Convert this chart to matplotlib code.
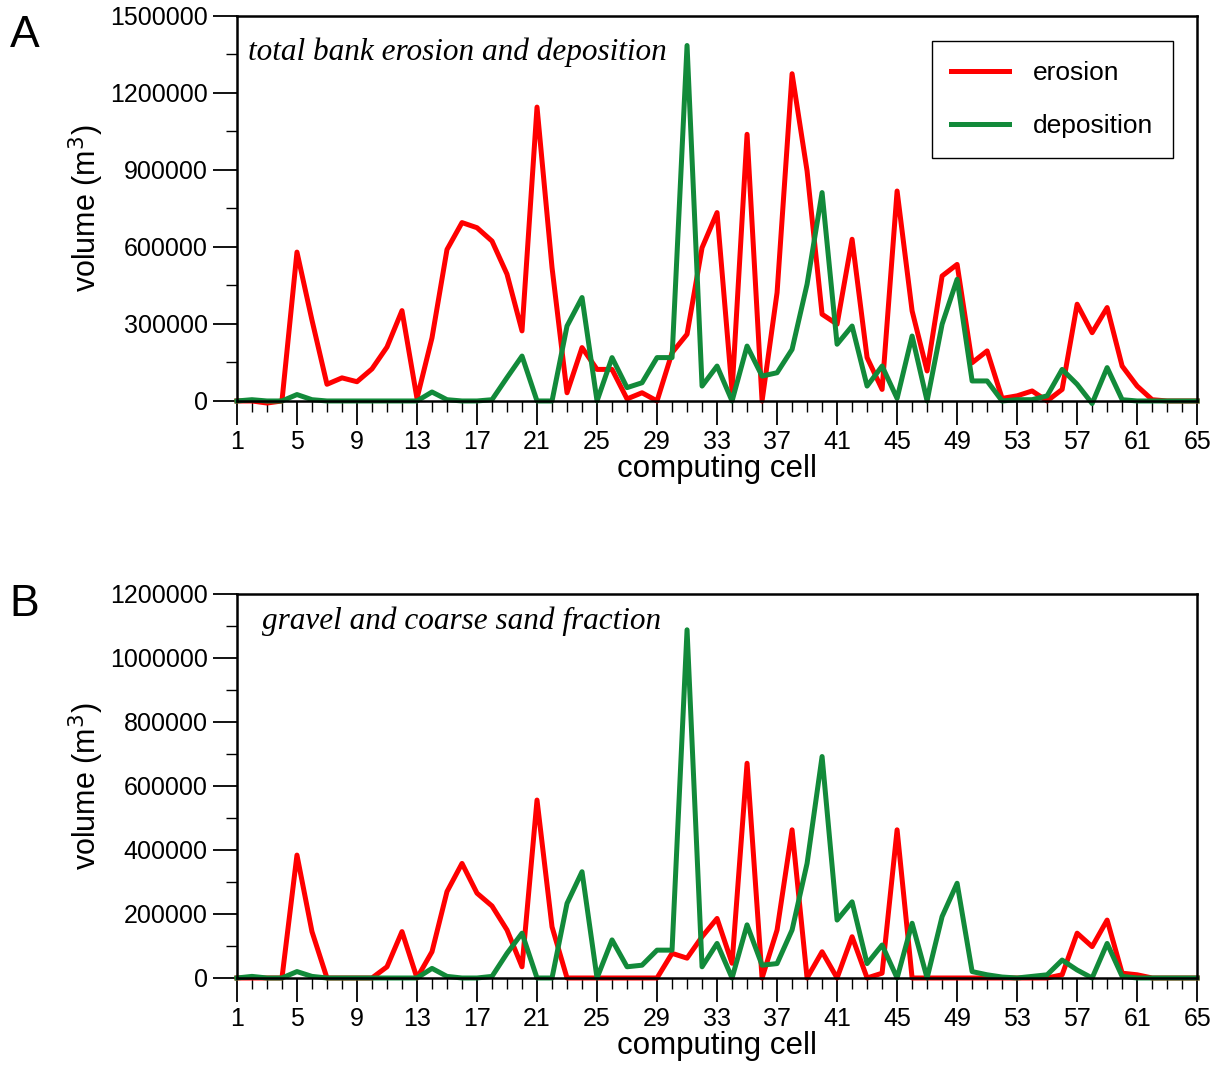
import numpy as np
import matplotlib
matplotlib.use("Agg")
import matplotlib.pyplot as plt
from matplotlib.ticker import MultipleLocator

# computing cells 1..65
cells = np.arange(1, 66)
cell_ticks = cells[::4]

# panel A: total bank erosion and deposition (m3)
erosion_a = [0, 0, -8000, 0, 580000, 315000, 65000, 90000, 75000, 125000,
             210000, 352000, 10000, 246000, 590000, 695000, 675000, 623000, 494000, 273000,
             1145000, 520000, 32000, 208000, 123000, 123000, 8000, 32000, 0, 188000,
             260000, 597000, 734000, 39000, 1039000, 0, 422000, 1275000, 896000, 338000,
             299000, 630000, 169000, 45000, 818000, 351000, 117000, 487000, 532000, 149000,
             195000, 10000, 20000, 39000, 0, 45000, 377000, 266000, 364000, 136000,
             58000, 5000, 0, 0, 0]
deposition_a = [0, 5000, 0, 0, 25000, 5000, 0, 0, 0, 0,
                0, 0, 0, 35000, 5000, 0, 0, 5000, 91000, 175000,
                0, 0, 292000, 403000, 0, 169000, 52000, 71000, 169000, 169000,
                1385000, 58000, 136000, 0, 214000, 97000, 110000, 201000, 455000, 812000,
                221000, 292000, 58000, 136000, 10000, 253000, 0, 299000, 474000, 78000,
                78000, 0, 5000, 5000, 20000, 123000, 65000, -10000, 130000, 5000,
                0, 0, 0, 0, 0]

# panel B: gravel and coarse sand fraction (m3)
erosion_b = [0, 0, 0, 0, 384000, 145000, 0, 0, 0, 0,
             35000, 145000, 0, 82000, 270000, 358000, 265000, 225000, 150000, 35000,
             556000, 160000, 0, 0, 0, 0, 0, 0, 0, 77000,
             62000, 129000, 186000, 46000, 671000, 0, 150000, 463000, 0, 82000,
             0, 129000, 0, 15000, 463000, 0, 0, 0, 0, 0,
             0, 0, 0, 0, 0, 10000, 140000, 98000, 181000, 15000,
             10000, 0, 0, 0, 0]
deposition_b = [0, 5000, 0, 0, 20000, 5000, 0, 0, 0, 0,
                0, 0, 0, 30000, 5000, 0, 0, 5000, 77000, 140000,
                0, 0, 233000, 332000, 0, 119000, 35000, 40000, 87000, 87000,
                1088000, 35000, 108000, 0, 166000, 40000, 45000, 150000, 358000, 692000,
                181000, 238000, 45000, 103000, 0, 171000, 0, 192000, 296000, 20000,
                10000, 3000, 0, 5000, 10000, 56000, 25000, 0, 108000, 5000,
                0, 0, 0, 0, 0]

RED = "#ff0000"
GREEN = "#128a3a"

plt.rcParams["font.family"] = ["Liberation Sans", "DejaVu Sans"]

fig = plt.figure(figsize=(12.17, 10.65), dpi=100)


def style_axis(ax, ymax, ystep, title, title_x, title_y):
    ax.set_xlim(1, 65)
    ax.set_ylim(0, ymax)
    ax.set_xticks(cell_ticks)
    ax.set_xticks(cells, minor=True)
    ax.yaxis.set_major_locator(MultipleLocator(ystep))
    ax.yaxis.set_minor_locator(MultipleLocator(ystep / 2))
    ax.ticklabel_format(axis="y", style="plain", useOffset=False)
    ax.tick_params(which="major", direction="out", length=17, width=1.3,
                   labelsize=18, pad=4)
    ax.tick_params(which="minor", direction="out", length=8, width=1.0)
    for s in ax.spines.values():
        s.set_linewidth(1.8)
    ax.set_xlabel("computing cell", fontsize=22.5, labelpad=0)
    ax.set_ylabel("volume (m$^3$)", fontsize=22, labelpad=3)
    ax.text(title_x, title_y, title, transform=ax.transAxes, ha="left", va="center",
            fontsize=22.5, style="italic", family="Liberation Serif")


# panel A
ax1 = fig.add_axes([0.1947, 0.6235, 0.789, 0.3615])
ax1.plot(cells, erosion_a, color=RED, lw=3.6, label="erosion", clip_on=False)
ax1.plot(cells, deposition_a, color=GREEN, lw=3.6, label="deposition", clip_on=False)
style_axis(ax1, 1500000, 300000, "total bank erosion and deposition", 0.012, 0.906)
leg = ax1.legend(loc="upper right", bbox_to_anchor=(0.975, 0.935), fontsize=19,
                 frameon=True, fancybox=False, edgecolor="black", framealpha=1,
                 handlelength=2.2, labelspacing=1.1, borderpad=0.75,
                 handletextpad=0.9, borderaxespad=0)
leg.get_frame().set_linewidth(1.0)
fig.text(0.008, 0.967, "A", fontsize=32, ha="left", va="center")

# panel B
ax2 = fig.add_axes([0.1947, 0.0817, 0.789, 0.3606])
ax2.plot(cells, erosion_b, color=RED, lw=3.6, clip_on=False)
ax2.plot(cells, deposition_b, color=GREEN, lw=3.6, clip_on=False)
style_axis(ax2, 1200000, 200000, "gravel and coarse sand fraction", 0.026, 0.93)
fig.text(0.008, 0.432, "B", fontsize=32, ha="left", va="center")

fig.savefig("out.png", dpi=100)
